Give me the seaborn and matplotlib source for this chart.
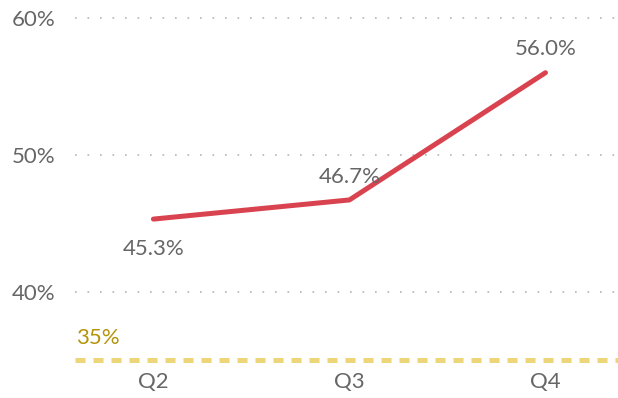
import matplotlib
matplotlib.use("Agg")
import matplotlib.pyplot as plt
import seaborn as sns
import pandas as pd

# Quarterly rate series
quarters = ["Q2", "Q3", "Q4"]
rates = [45.3, 46.7, 56.0]
target = 35.0
y_ticks = [40, 50, 60]

df = pd.DataFrame({"quarter": quarters, "rate": rates, "pos": range(len(quarters))})

sns.set_theme(style="white")
plt.rcParams["font.family"] = ["Lato", "DejaVu Sans"]

fig = plt.figure(figsize=(6.18, 3.98), dpi=100)
ax = fig.add_axes([75 / 618, 0.0783, 543 / 618, 0.9109])

text_color = "#666666"
line_color = "#D9434F"
fs = 16

# dotted horizontal gridlines
for t in y_ticks:
    ax.axhline(t, color="#B5B5B5", lw=1.2, linestyle=(0, (1, 6.5)), zorder=0)

# target line
ax.axhline(target, color="#EDD57A", lw=3.6, linestyle=(0, (2, 1.6)),
           dash_capstyle="butt", zorder=1)
ax.text(-0.395, target + 0.9, f"{target:.0f}%", color="#B3940A", fontsize=fs,
        ha="left", va="bottom")

sns.lineplot(data=df, x="pos", y="rate", ax=ax, color=line_color, lw=3.6,
             solid_capstyle="round", zorder=3)

# value labels
offsets = [-2.2, 1.7, 1.7]
for i, (v, off) in enumerate(zip(rates, offsets)):
    ax.text(i, v + off, f"{v:.1f}%", color=text_color, fontsize=fs,
            ha="center", va="center")

ax.set_xlim(-0.4, 2.37)
ax.set_ylim(34.5, 61)
ax.set_xticks(range(len(quarters)))
ax.set_xticklabels(quarters)
ax.set_yticks(y_ticks)
ax.set_yticklabels([f"{t}%" for t in y_ticks])
ax.tick_params(axis="y", length=0, pad=14, labelsize=fs, labelcolor=text_color)
ax.tick_params(axis="x", length=0, pad=4, labelsize=fs, labelcolor=text_color)
ax.set_xlabel("")
ax.set_ylabel("")
for s in ax.spines.values():
    s.set_visible(False)

fig.savefig("out.png", dpi=100)
